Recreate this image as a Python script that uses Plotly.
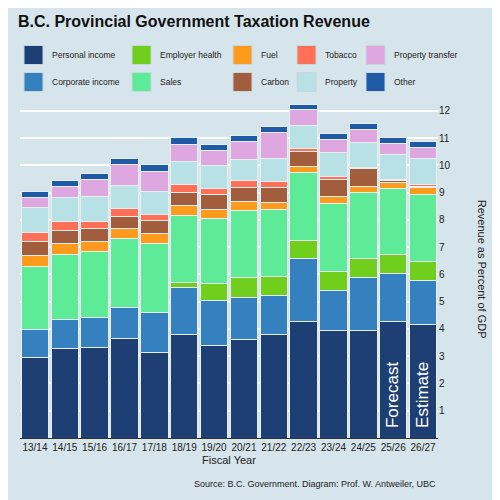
import plotly.graph_objects as go

years = ["13/14","14/15","15/16","16/17","17/18","18/19","19/20","20/21","21/22","22/23","23/24","24/25","25/26","26/27"]
series_names = ["Personal income","Corporate income","Employer health","Sales","Fuel","Carbon","Tobacco","Property","Property transfer","Other"]
colors = ["#1e3f74","#3580be","#6fcf1c","#5deb97","#ff9b1c","#a25d3d","#ff7057","#b7e1e5","#dea7e0","#1f5aa6"]
personal = [2.94,3.29,3.33,3.66,3.14,3.80,3.41,3.60,3.80,4.29,3.94,3.94,4.28,4.15]
corporate = [1.05,1.07,1.09,1.14,1.47,1.73,1.63,1.55,1.43,2.29,1.46,1.94,1.77,1.64]
employer = [0,0,0,0,0,0.18,0.63,0.74,0.70,0.67,0.70,0.71,0.69,0.70]
sales = [2.30,2.39,2.41,2.51,2.53,2.47,2.38,2.47,2.44,2.48,2.51,2.43,2.41,2.45]
fuel = [0.41,0.37,0.37,0.36,0.36,0.35,0.35,0.33,0.28,0.23,0.24,0.22,0.21,0.24]
carbon = [0.51,0.49,0.49,0.46,0.48,0.48,0.52,0.51,0.55,0.54,0.63,0.64,0.09,0.06]
tobacco = [0.32,0.32,0.27,0.29,0.23,0.28,0.25,0.25,0.22,0.13,0.10,0.06,0.05,0.06]
prop = [0.91,0.88,0.90,0.86,0.85,0.87,0.84,0.75,0.83,0.84,0.90,0.89,0.90,0.95]
prop_transfer = [0.39,0.43,0.62,0.76,0.73,0.61,0.52,0.67,0.95,0.57,0.48,0.47,0.40,0.40]
other = [0.23,0.21,0.21,0.22,0.25,0.25,0.24,0.23,0.21,0.21,0.21,0.23,0.22,0.22]
all_series = [personal,corporate,employer,sales,fuel,carbon,tobacco,prop,prop_transfer,other]
y_ticks = list(range(1,13))

W, H = 500, 500
ML, MR, MT, MB = 12, 70, 92, 70
PW, PH = W - ML - MR, H - MT - MB
def px(x): return (x - ML) / PW
def py(y): return (H - MB - y) / PH

fig = go.Figure()
for name, vals, c in zip(series_names, all_series, colors):
    fig.add_bar(x=years, y=vals, name=name, showlegend=False,
                marker=dict(color=c, line=dict(color="#e8eff3", width=1)))

# manual legend (column-major, 2 rows x 5 columns)
col_x = [16, 124, 225, 289, 358]
row_y = [47, 74]
for i, (name, c) in enumerate(zip(series_names, colors)):
    col, row = i // 2, i % 2
    x0, yc = col_x[col], row_y[row]
    fig.add_shape(type="rect", xref="paper", yref="paper", x0=px(x0), x1=px(x0 + 19),
                  y0=py(yc + 9.5), y1=py(yc - 9.5), fillcolor=c, line=dict(color="#c8d6de", width=1))
    fig.add_annotation(xref="paper", yref="paper", x=px(x0 + 26), y=py(yc), xanchor="left", yanchor="middle",
                       text=name, showarrow=False, font=dict(size=8.5, color="#222"))

fig.update_layout(
    barmode="stack", bargap=0.08,
    width=W, height=H,
    paper_bgcolor="#d6e4eb", plot_bgcolor="#d6e4eb",
    font=dict(family="Liberation Sans, Arial", size=10, color="#222"),
    margin=dict(l=ML, r=MR, t=MT, b=MB),
    title=dict(text="<b>B.C. Provincial Government Taxation Revenue</b>", x=0.02, y=0.985, yanchor="top", font=dict(size=16, color="#111")),
)
fig.update_xaxes(title=dict(text="Fiscal Year", font=dict(size=11), standoff=4), showgrid=False, tickfont=dict(size=10),
                 showline=True, linecolor="#333", ticks="")
fig.update_yaxes(side="right", range=[0,12.4], tickvals=y_ticks, showgrid=True, gridcolor="white", gridwidth=2,
                 zeroline=False, tickfont=dict(size=10), ticks="")
fig.add_annotation(x=1.125, y=0.5, xref="paper", yref="paper", text="Revenue as Percent of GDP", textangle=90,
                   showarrow=False, font=dict(size=11))
for xv, t in [("25/26","Forecast"),("26/27","Estimate")]:
    fig.add_annotation(x=xv, y=0.3, yref="y", text=t, textangle=-90, showarrow=False, yanchor="bottom",
                       font=dict(size=17, color="white"))
fig.add_annotation(x=1.0, y=-0.115, xref="paper", yref="paper", xanchor="right", yanchor="top",
                   text="Source: B.C. Government. Diagram: Prof. W. Antweiler, UBC", showarrow=False, font=dict(size=9))
fig.write_html("out.html")
